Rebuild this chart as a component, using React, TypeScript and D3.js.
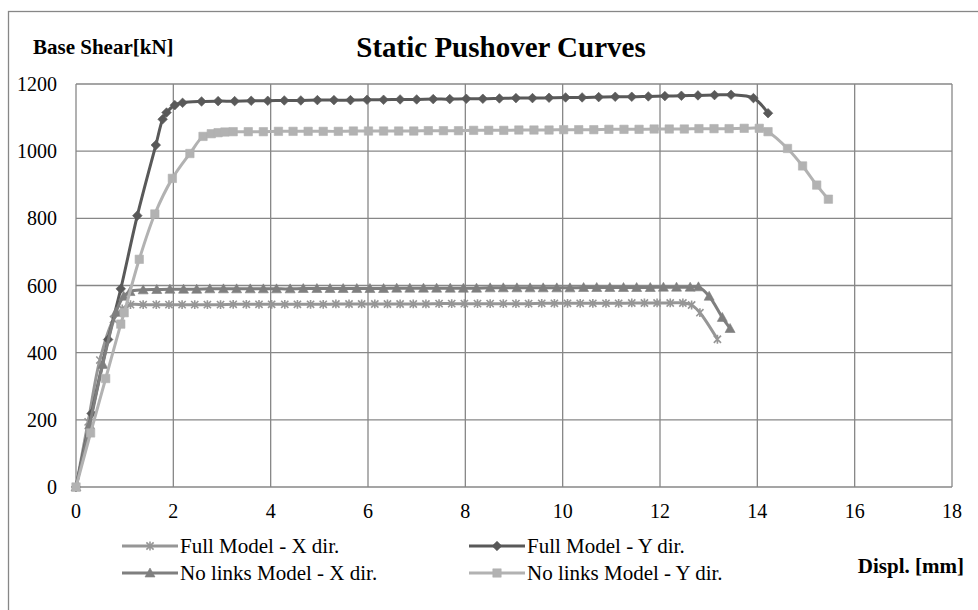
import React from 'react';
import * as d3 from 'd3';

// ---- data ----
const xTicks = [0, 2, 4, 6, 8, 10, 12, 14, 16, 18];
const yTicks = [0, 200, 400, 600, 800, 1000, 1200];

const fullXDispl = [0, 0.25, 0.49, 0.77, 0.95, 1.12, 1.38, 1.65, 1.91, 2.18, 2.44, 2.70, 2.97, 3.23, 3.50, 3.76, 4.02, 4.29, 4.55, 4.82, 5.08, 5.34, 5.61, 5.87, 6.14, 6.40, 6.66, 6.93, 7.19, 7.46, 7.72, 7.98, 8.25, 8.51, 8.78, 9.04, 9.30, 9.57, 9.83, 10.10, 10.36, 10.62, 10.89, 11.15, 11.42, 11.68, 11.94, 12.21, 12.47, 12.65, 12.82, 13.18];
const fullXShear = [0, 194, 378, 499, 530, 543, 543, 543, 543, 543, 543, 543, 543, 544, 544, 544, 544, 544, 544, 544, 544, 545, 545, 545, 545, 545, 545, 545, 545, 546, 546, 546, 546, 546, 546, 546, 546, 547, 547, 547, 547, 547, 547, 547, 548, 548, 548, 548, 548, 542, 519, 440];

const fullYDispl = [0, 0.32, 0.66, 0.92, 1.26, 1.64, 1.78, 1.86, 2.03, 2.19, 2.58, 2.92, 3.26, 3.60, 3.94, 4.28, 4.62, 4.96, 5.30, 5.64, 5.98, 6.32, 6.66, 7.00, 7.34, 7.68, 8.02, 8.36, 8.70, 9.04, 9.38, 9.72, 10.06, 10.40, 10.74, 11.08, 11.42, 11.76, 12.10, 12.44, 12.78, 13.12, 13.46, 13.92, 14.22];
const fullYShear = [0, 219, 439, 590, 808, 1018, 1095, 1115, 1137, 1144, 1148, 1149, 1149, 1150, 1150, 1151, 1151, 1152, 1152, 1152, 1153, 1153, 1154, 1154, 1155, 1155, 1156, 1156, 1157, 1158, 1158, 1159, 1160, 1160, 1161, 1162, 1162, 1163, 1164, 1165, 1166, 1167, 1168, 1158, 1113];

const noLinksXDispl = [0, 0.28, 0.55, 0.82, 0.98, 1.11, 1.38, 1.66, 1.93, 2.21, 2.48, 2.75, 3.03, 3.30, 3.58, 3.85, 4.12, 4.40, 4.67, 4.95, 5.22, 5.49, 5.77, 6.04, 6.32, 6.59, 6.86, 7.14, 7.41, 7.69, 7.96, 8.23, 8.51, 8.78, 9.06, 9.33, 9.60, 9.88, 10.15, 10.43, 10.70, 10.97, 11.25, 11.52, 11.80, 12.07, 12.34, 12.62, 12.79, 13.01, 13.28, 13.44];
const noLinksXShear = [0, 185, 365, 520, 568, 582, 587, 588, 589, 589, 589, 590, 590, 590, 590, 590, 590, 590, 591, 591, 591, 591, 591, 591, 591, 592, 592, 592, 592, 592, 592, 592, 593, 593, 593, 593, 593, 593, 593, 594, 594, 594, 594, 594, 594, 595, 595, 595, 596, 568, 505, 472];

const noLinksYDispl = [0, 0.30, 0.61, 0.92, 0.99, 1.30, 1.62, 1.98, 2.34, 2.61, 2.78, 2.92, 3.06, 3.23, 3.54, 3.85, 4.16, 4.46, 4.77, 5.08, 5.39, 5.70, 6.01, 6.32, 6.63, 6.94, 7.24, 7.55, 7.86, 8.17, 8.48, 8.79, 9.10, 9.41, 9.72, 10.02, 10.33, 10.64, 10.95, 11.26, 11.57, 11.88, 12.19, 12.50, 12.80, 13.11, 13.42, 13.73, 14.04, 14.22, 14.62, 14.93, 15.22, 15.46];
const noLinksYShear = [0, 161, 323, 485, 519, 678, 813, 919, 993, 1044, 1052, 1055, 1057, 1058, 1058, 1058, 1059, 1059, 1059, 1059, 1059, 1060, 1060, 1060, 1060, 1060, 1061, 1061, 1061, 1062, 1062, 1062, 1063, 1063, 1063, 1064, 1064, 1064, 1065, 1065, 1065, 1066, 1066, 1066, 1067, 1067, 1067, 1068, 1068, 1058, 1008, 956, 899, 857];

const seriesNames = ['Full Model - X dir.', 'Full Model - Y dir.', 'No links Model - X dir.', 'No links Model - Y dir.'];

// ---- styles ----
const FONT = '"Liberation Serif", "Times New Roman", serif';
const GRID = '#878787';

type Marker = 'star' | 'diamond' | 'triangle' | 'square';
const seriesStyle: { color: string; marker: Marker }[] = [
  { color: '#969696', marker: 'star' },
  { color: '#595959', marker: 'diamond' },
  { color: '#7f7f7f', marker: 'triangle' },
  { color: '#b2b2b2', marker: 'square' },
];

function markerPath(m: Marker): string {
  switch (m) {
    case 'diamond':
      return 'M0,-4.8L4.8,0L0,4.8L-4.8,0Z';
    case 'square':
      return 'M-4.2,-4.2H4.2V4.2H-4.2Z';
    case 'triangle':
      return 'M0,-5L5,4H-5Z';
    case 'star':
      return 'M-3.6,-3.6L3.6,3.6M-3.6,3.6L3.6,-3.6M0,-4.4L0,4.4';
  }
}

function MarkerShape({ m, color, x, y }: { m: Marker; color: string; x: number; y: number }) {
  const d = markerPath(m);
  if (m === 'star') {
    return <path d={d} transform={`translate(${x},${y})`} fill="none" stroke={color} strokeWidth={1.6} />;
  }
  return <path d={d} transform={`translate(${x},${y})`} fill={color} stroke={color} strokeWidth={0.6} />;
}

export default function App() {
  const xs = d3.scaleLinear().domain([0, 18]).range([76, 952]);
  const ys = d3.scaleLinear().domain([0, 1200]).range([487, 84]);

  const data: [number, number][][] = [
    d3.zip(fullXDispl, fullXShear) as [number, number][],
    d3.zip(fullYDispl, fullYShear) as [number, number][],
    d3.zip(noLinksXDispl, noLinksXShear) as [number, number][],
    d3.zip(noLinksYDispl, noLinksYShear) as [number, number][],
  ];

  const line = d3
    .line<[number, number]>()
    .x((d) => xs(d[0]))
    .y((d) => ys(d[1]))
    .curve(d3.curveCatmullRom.alpha(0.5));

  const legendItems = [
    { i: 0, lx: 122, ly: 546 },
    { i: 1, lx: 469, ly: 546 },
    { i: 2, lx: 122, ly: 573 },
    { i: 3, lx: 469, ly: 573 },
  ];

  return (
    <svg
      width={978}
      height={610}
      style={{ position: 'absolute', left: 0, top: 0, background: '#fff' }}
      fontFamily={FONT}
    >
      <rect x={0} y={0} width={978} height={610} fill="#fff" />
      <rect x={8.5} y={11.5} width={1100} height={800} fill="#fff" stroke={GRID} strokeWidth={1.3} />

      {/* gridlines */}
      {yTicks.map((t) => (
        <line key={'gy' + t} x1={xs(0)} x2={xs(18)} y1={ys(t)} y2={ys(t)} stroke={GRID} strokeWidth={1.3} />
      ))}
      {xTicks.map((t) => (
        <line key={'gx' + t} x1={xs(t)} x2={xs(t)} y1={ys(0)} y2={ys(1200)} stroke={GRID} strokeWidth={1.3} />
      ))}

      {/* tick labels */}
      {yTicks.map((t) => (
        <text key={'ty' + t} x={57} y={ys(t) + 7} textAnchor="end" fontSize={20} fill="#000">
          {t}
        </text>
      ))}
      {xTicks.map((t) => (
        <text key={'tx' + t} x={xs(t)} y={518} textAnchor="middle" fontSize={20} fill="#000">
          {t}
        </text>
      ))}

      {/* titles */}
      <text x={501} y={57} textAnchor="middle" fontSize={29} fontWeight="bold" fill="#000">
        Static Pushover Curves
      </text>
      <text x={33} y={54} fontSize={21} fontWeight="bold" fill="#000">
        Base Shear[kN]
      </text>
      <text x={964} y={573} textAnchor="end" fontSize={21} fontWeight="bold" fill="#000">
        Displ. [mm]
      </text>

      {/* series */}
      {data.map((pts, i) => (
        <g key={'s' + i}>
          <path d={line(pts) || ''} fill="none" stroke={seriesStyle[i].color} strokeWidth={3} strokeLinejoin="round" />
          {pts.map((p, j) => (
            <MarkerShape key={j} m={seriesStyle[i].marker} color={seriesStyle[i].color} x={xs(p[0])} y={ys(p[1])} />
          ))}
        </g>
      ))}

      {/* legend */}
      {legendItems.map(({ i, lx, ly }) => (
        <g key={'lg' + i}>
          <line x1={lx} x2={lx + 56} y1={ly} y2={ly} stroke={seriesStyle[i].color} strokeWidth={3} />
          <MarkerShape m={seriesStyle[i].marker} color={seriesStyle[i].color} x={lx + 28} y={ly} />
          <text x={lx + 58} y={ly + 7} fontSize={21} fill="#000">
            {seriesNames[i]}
          </text>
        </g>
      ))}
    </svg>
  );
}
